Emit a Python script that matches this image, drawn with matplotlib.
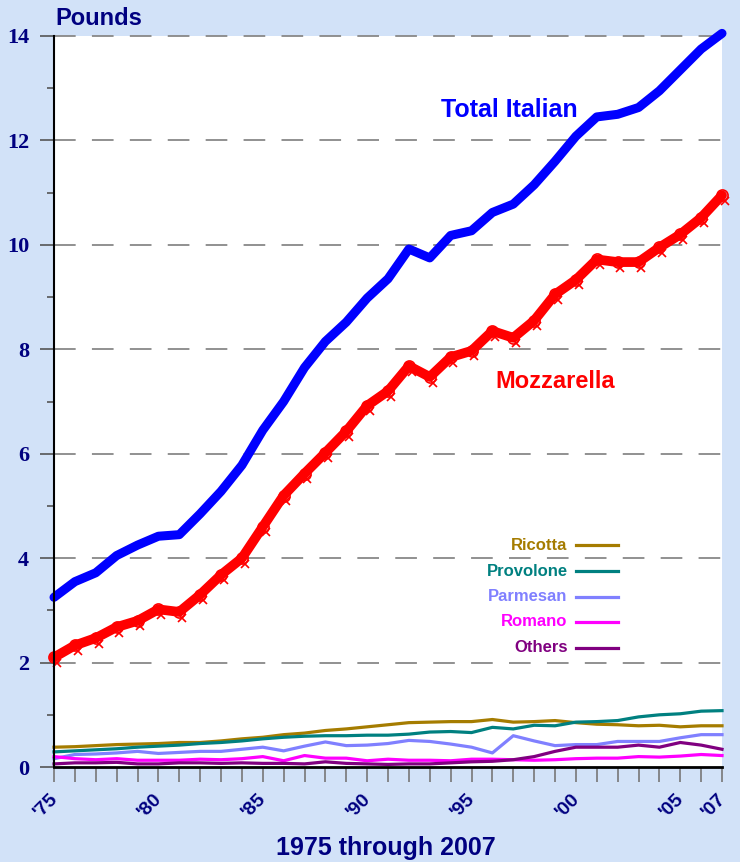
import numpy as np
import matplotlib.pyplot as plt
import matplotlib.transforms as mtransforms

years = np.arange(1975, 2008)

total_italian = [3.25, 3.55, 3.72, 4.05, 4.25, 4.42, 4.45, 4.85, 5.28, 5.78,
                 6.45, 7.00, 7.65, 8.15, 8.52, 8.98, 9.35, 9.92, 9.75, 10.18,
                 10.27, 10.62, 10.78, 11.15, 11.60, 12.08, 12.45, 12.50, 12.63, 12.95,
                 13.35, 13.75, 14.05]
mozzarella = [2.10, 2.33, 2.47, 2.68, 2.80, 3.02, 2.97, 3.30, 3.68, 4.00,
              4.60, 5.20, 5.62, 6.02, 6.43, 6.92, 7.20, 7.68, 7.47, 7.85,
              7.97, 8.35, 8.22, 8.55, 9.05, 9.33, 9.72, 9.67, 9.67, 9.95,
              10.20, 10.52, 10.95]
ricotta = [0.38, 0.39, 0.41, 0.43, 0.44, 0.45, 0.47, 0.47, 0.50, 0.54,
           0.57, 0.62, 0.65, 0.70, 0.73, 0.77, 0.81, 0.85, 0.86, 0.87,
           0.87, 0.91, 0.86, 0.87, 0.89, 0.85, 0.82, 0.81, 0.79, 0.80,
           0.77, 0.79, 0.79]
provolone = [0.29, 0.31, 0.33, 0.35, 0.38, 0.40, 0.42, 0.45, 0.47, 0.50,
             0.54, 0.57, 0.59, 0.60, 0.60, 0.61, 0.61, 0.63, 0.67, 0.68,
             0.66, 0.76, 0.73, 0.80, 0.79, 0.86, 0.87, 0.89, 0.96, 1.00,
             1.02, 1.07, 1.08]
parmesan = [0.16, 0.24, 0.25, 0.27, 0.30, 0.26, 0.28, 0.30, 0.30, 0.34,
            0.38, 0.31, 0.40, 0.48, 0.41, 0.42, 0.45, 0.51, 0.49, 0.44,
            0.38, 0.27, 0.60, 0.50, 0.41, 0.43, 0.43, 0.49, 0.49, 0.49,
            0.56, 0.62, 0.62]
romano = [0.20, 0.16, 0.14, 0.16, 0.13, 0.13, 0.13, 0.15, 0.14, 0.16,
          0.20, 0.12, 0.22, 0.17, 0.17, 0.12, 0.15, 0.13, 0.13, 0.12,
          0.15, 0.15, 0.14, 0.13, 0.14, 0.16, 0.17, 0.17, 0.20, 0.19,
          0.21, 0.24, 0.22]
others = [0.06, 0.08, 0.08, 0.09, 0.06, 0.06, 0.08, 0.08, 0.07, 0.08,
          0.07, 0.07, 0.06, 0.10, 0.07, 0.06, 0.05, 0.06, 0.06, 0.08,
          0.10, 0.11, 0.14, 0.20, 0.30, 0.38, 0.38, 0.38, 0.42, 0.38,
          0.47, 0.42, 0.34]

small_names = ['Ricotta', 'Provolone', 'Parmesan', 'Romano', 'Others']
small_series = [ricotta, provolone, parmesan, romano, others]
small_colors = ['#a57c00', '#008080', '#8080ff', '#ff00ff', '#800080']

label_years = [1975, 1980, 1985, 1990, 1995, 2000, 2005, 2007]
navy = '#000080'
bg = '#d2e2f8'

fig = plt.figure(figsize=(7.4, 8.67), dpi=100, facecolor=bg)
ax = fig.add_axes([0.073, 0.1153, 0.9027, 0.8432])
ax.set_facecolor('white')

ax.set_xlim(1975, 2007)
ax.set_ylim(0, 14)

# gridlines
ax.set_yticks(np.arange(0, 15, 2))
ax.set_yticks(np.arange(1, 14, 2), minor=True)
for yv in np.arange(2, 15, 2):
    ax.axhline(yv, color='#888888', lw=1.3, dashes=(12, 9), zorder=1, clip_on=False)

# small series
for vals, c in zip(small_series, small_colors):
    ax.plot(years, vals, color=c, lw=2.3, zorder=3, clip_on=False)

# big series
ax.plot(years, total_italian, color='#0000ff', lw=6.5, solid_capstyle='round',
        zorder=4, clip_on=False)
ax.plot(years, mozzarella, color='#ff0000', lw=7, solid_capstyle='round',
        zorder=4, clip_on=False)
ax.plot(years, mozzarella, ls='none', marker='o', ms=8, mfc='none', mec='#ff0000',
        mew=1.2, zorder=5, clip_on=False)
off = mtransforms.offset_copy(ax.transData, fig=fig, x=2, y=-4, units='points')
ax.plot(years, mozzarella, ls='none', marker='x', ms=6, mec='#ff0000', mew=1.2,
        transform=off, zorder=5, clip_on=False)

# labels on chart
ax.text(1996.8, 12.58, 'Total Italian', color='#0000ff', fontsize=18, fontweight='bold',
        family='Liberation Sans', ha='center', va='center')
ax.text(1999.0, 7.39, 'Mozzarella', color='#ff0000', fontsize=17, fontweight='bold',
        family='Liberation Sans', ha='center', va='center')

# legend built as text + line
leg_y = [4.25, 3.75, 3.26, 2.78, 2.28]
for name, c, yy in zip(small_names, small_colors, leg_y):
    ax.text(1999.6, yy, name, color=c, fontsize=12, fontweight='bold',
            family='Liberation Sans', ha='right', va='center')
    ax.plot([2000.0, 2002.0], [yy, yy], color=c, lw=2.3, zorder=3)

# x axis ticks
ax.set_xticks(years)
ax.set_xticklabels(["'%02d" % (y % 100) if y in label_years else '' for y in years],
                   rotation=45, ha='right', va='top')
ax.tick_params(axis='x', direction='out', length=11, width=1.2, color='#777777',
               labelsize=14, labelcolor=navy, pad=6)
shift = mtransforms.ScaledTranslation(7 / 100, 0, fig.dpi_scale_trans)
for lab in ax.get_xticklabels():
    lab.set_fontweight('bold')
    lab.set_family('Liberation Sans')
    lab.set_transform(lab.get_transform() + shift)

ax.tick_params(axis='y', which='major', direction='out', length=10, width=1.2,
               color='#555555', labelsize=16, labelcolor=navy, pad=8)
ax.tick_params(axis='y', which='minor', direction='out', length=5, width=1.2,
               color='#555555')
for lab in ax.get_yticklabels():
    lab.set_fontweight('bold')
    lab.set_family('Liberation Serif')

for side in ['top', 'right']:
    ax.spines[side].set_visible(False)
ax.spines['left'].set_linewidth(1.5)
ax.spines['bottom'].set_linewidth(2)
ax.spines['left'].set_zorder(6)

fig.text(0.075, 0.979, 'Pounds', color=navy, fontsize=17, fontweight='bold',
         family='Liberation Sans', ha='left', va='center')
fig.text(0.521, 0.022, '1975 through 2007', color=navy, fontsize=18, fontweight='bold',
         family='Liberation Sans', ha='center', va='center')
# thin white strip at the very bottom of the slide
fig.patches.append(plt.Rectangle((0, 0), 1, 0.006, transform=fig.transFigure,
                                 facecolor='white', edgecolor='none'))

fig.savefig('out.png', dpi=100, facecolor=bg)
